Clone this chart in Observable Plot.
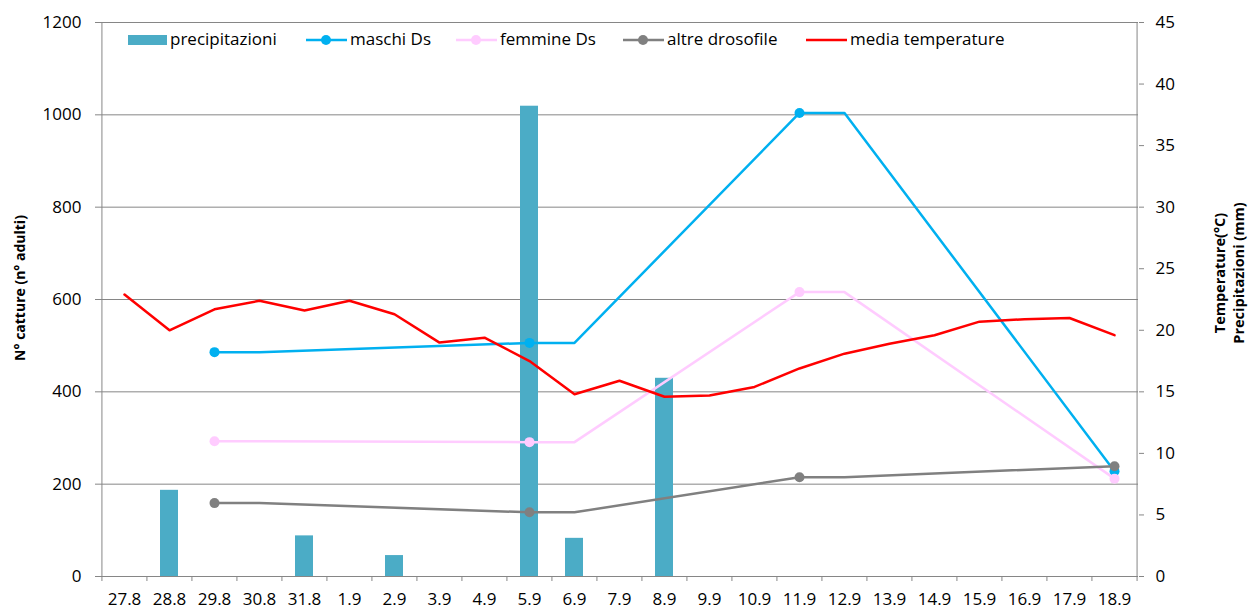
<!DOCTYPE html>
<html>
<head>
<meta charset="utf-8">
<script src="https://cdn.jsdelivr.net/npm/d3@7"></script>
<script src="https://cdn.jsdelivr.net/npm/@observablehq/plot@0.6"></script>
<style>
  html, body { margin: 0; padding: 0; background: #fff; }
  body { font-family: "Open Sans", sans-serif; }
  #wrap { position: relative; width: 1248px; height: 610px; overflow: hidden; }
  .leg { position: absolute; top: 29px; height: 20px; line-height: 20px; font-size: 17px; color: #000; white-space: nowrap; display: flex; align-items: center; }
  .leg svg { display: block; margin-right: 3px; }
</style>
</head>
<body>
<div id="wrap"></div>
<script>
// ---- data ----
const dates = ["27.8","28.8","29.8","30.8","31.8","1.9","2.9","3.9","4.9","5.9","6.9","7.9","8.9","9.9","10.9","11.9","12.9","13.9","14.9","15.9","16.9","17.9","18.9"];
const precipitazioni = [0, 7.0, 0, 0, 3.3, 0, 1.7, 0, 0, 38.2, 3.1, 0, 16.1, 0, 0, 0, 0, 0, 0, 0, 0, 0, 0];
const maschiDs = [null, null, 486, 486, null, null, null, null, null, 506, 506, null, null, null, null, 1004, 1004, null, null, null, null, null, 228];
const femmineDs = [null, null, 293, 293, null, null, null, null, null, 291, 291, null, null, null, null, 616, 616, null, null, null, null, null, 212];
const altreDrosofile = [null, null, 159, 159, null, null, null, null, null, 139, 139, null, null, null, null, 215, 215, null, null, null, null, null, 239];
const mediaTemperature = [22.9, 20.0, 21.7, 22.4, 21.6, 22.4, 21.3, 19.0, 19.4, 17.5, 14.8, 15.9, 14.6, 14.7, 15.4, 16.9, 18.1, 18.9, 19.6, 20.7, 20.9, 21.0, 19.6];
const markerDates = ["29.8", "5.9", "11.9", "18.9"];
const leftTicks = [0, 200, 400, 600, 800, 1000, 1200];
const rightTicks = [0, 5, 10, 15, 20, 25, 30, 35, 40, 45];
const seriesNames = ["precipitazioni", "maschi Ds", "femmine Ds", "altre drosofile", "media temperature"];
const seriesColors = ["#4BACC6", "#00B0F0", "#FFCCFF", "#808080", "#FF0000"];
const leftTitle = "N° catture (n° adulti)";
const rightTitle = ["Temperature(°C)", "Precipitazioni (mm)"];

// ---- chart ----
const W = 1248, H = 610;
const mL = 100, mR = 110, mT = 22, mB = 34;
const step = (W - mL - mR) / dates.length;
const k = leftTicks[leftTicks.length - 1] / rightTicks[rightTicks.length - 1]; // right -> left units
const grid = "#868686";

const rows = dates.map((d, i) => ({
  date: d, precip: precipitazioni[i], maschi: maschiDs[i], femmine: femmineDs[i],
  altre: altreDrosofile[i], temp: mediaTemperature[i]
}));
const def = key => rows.filter(r => r[key] != null);
const marked = key => rows.filter(r => r[key] != null && markerDates.includes(r.date));

const chart = Plot.plot({
  width: W, height: H,
  marginLeft: mL, marginRight: mR, marginTop: mT, marginBottom: mB,
  style: { fontFamily: "'Open Sans', sans-serif", fontSize: "17px", color: "#000", background: "#fff" },
  x: { type: "band", domain: dates, paddingInner: 0.6, paddingOuter: 0.3 },
  y: { domain: [0, 1200] },
  marks: [
    Plot.gridY(leftTicks.filter(v => v > 0), { stroke: grid, strokeOpacity: 1, strokeWidth: 1 }),
    Plot.barY(rows.filter(r => r.precip > 0), { x: "date", y: r => r.precip * k, fill: seriesColors[0] }),
    // axis lines and category boundary ticks
    Plot.ruleY([0], { stroke: grid, strokeWidth: 1 }),
    Plot.ruleX([dates[0]], { y1: 0, y2: 1200, dx: -step / 2, stroke: grid }),
    Plot.ruleX([dates[dates.length - 1]], { y1: 0, y2: 1200, dx: step / 2, stroke: grid }),
    Plot.ruleX(dates, { x: d => d, y1: 0, y2: 0, insetBottom: -5, dx: -step / 2, stroke: grid }),
    Plot.ruleX([dates[dates.length - 1]], { x: d => d, y1: 0, y2: 0, insetBottom: -5, dx: step / 2, stroke: grid }),
    Plot.axisY(leftTicks, { anchor: "left", tickSize: 5, tickPadding: 14, stroke: grid, fill: "#000", fontSize: 17, label: null, tickFormat: v => String(v) }),
    Plot.axisY(rightTicks.map(v => v * k), { anchor: "right", tickSize: 5, tickPadding: 12, stroke: grid, fill: "#000", fontSize: 17, label: null, tickFormat: v => String(Math.round(v / k)) }),
    Plot.axisX({ tickSize: 0, tickPadding: 16, fontSize: 17, fill: "#000", label: null }),
    // series
    Plot.line(def("maschi"), { x: "date", y: "maschi", stroke: seriesColors[1], strokeWidth: 2.5 }),
    Plot.dot(marked("maschi"), { x: "date", y: "maschi", r: 5, fill: seriesColors[1] }),
    Plot.line(def("femmine"), { x: "date", y: "femmine", stroke: seriesColors[2], strokeWidth: 2.5 }),
    Plot.dot(marked("femmine"), { x: "date", y: "femmine", r: 5, fill: seriesColors[2] }),
    Plot.line(def("altre"), { x: "date", y: "altre", stroke: seriesColors[3], strokeWidth: 2.5 }),
    Plot.dot(marked("altre"), { x: "date", y: "altre", r: 5, fill: seriesColors[3] }),
    Plot.line(rows, { x: "date", y: r => r.temp * k, stroke: seriesColors[4], strokeWidth: 2.5 })
  ]
});

const wrap = document.getElementById("wrap");
wrap.appendChild(chart);

// axis titles
const svg = d3.select(chart);
svg.append("text")
  .attr("transform", "translate(25,288) rotate(-90)")
  .attr("text-anchor", "middle")
  .style("font-family", "'Open Sans', sans-serif").style("font-size", "14px").style("font-weight", "bold")
  .attr("fill", "#000")
  .text(leftTitle);
rightTitle.forEach((t, i) => {
  svg.append("text")
    .attr("transform", `translate(${1225 + i * 19},273) rotate(-90)`)
    .attr("text-anchor", "middle")
    .style("font-family", "'Open Sans', sans-serif").style("font-size", "14.5px").style("font-weight", "bold")
    .attr("fill", "#000")
    .text(t);
});

// legend
const legLeft = [128, 306, 456, 623, 806];
seriesNames.forEach((name, i) => {
  const item = document.createElement("div");
  item.className = "leg";
  item.style.left = legLeft[i] + "px";
  let icon;
  if (i === 0) {
    icon = `<svg width="39" height="20"><rect x="0" y="6" width="39" height="10" fill="${seriesColors[0]}"/></svg>`;
  } else {
    const dot = i < 4 ? `<circle cx="20" cy="11" r="5" fill="${seriesColors[i]}"/>` : "";
    icon = `<svg width="41" height="20"><line x1="0" x2="41" y1="11" y2="11" stroke="${seriesColors[i]}" stroke-width="2.5"/>${dot}</svg>`;
  }
  item.innerHTML = icon + `<span>${name}</span>`;
  wrap.appendChild(item);
});
</script>
</body>
</html>
